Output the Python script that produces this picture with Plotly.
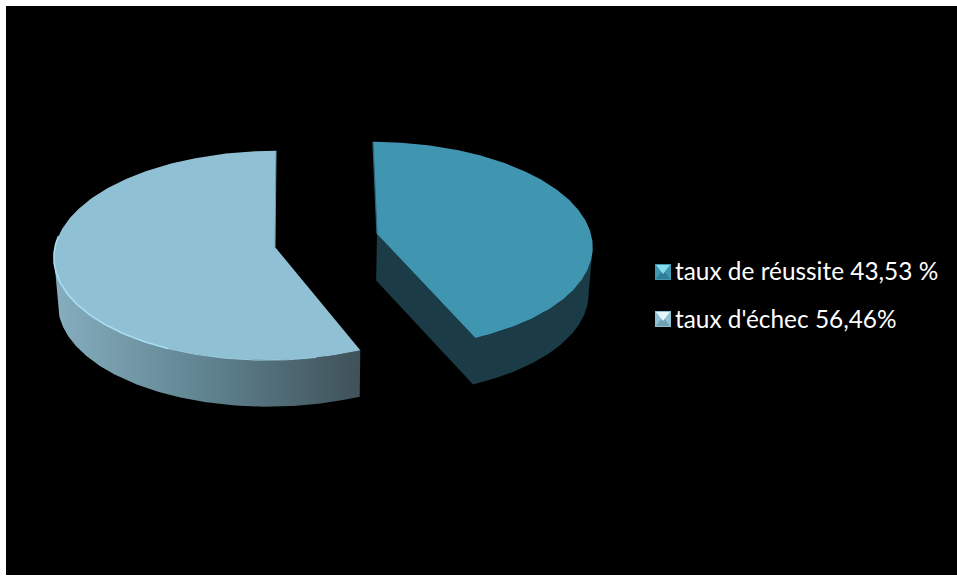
import numpy as np
import plotly.graph_objects as go

# Values
categories = ["taux de réussite", "taux d'échec"]
shares = [43.53, 56.46]
labels = ["taux de réussite 43,53 %", "taux d'échec 56,46%"]

# Palette
TOP_COLOURS = ["#4095B0", "#90C0D4"]
SWATCH_LIGHT = ["#86DCEE", "#E3F6FB"]
SWATCH_DARK = ["#2F7D95", "#6F9FB0"]
WALL_DARK = "#1B3B47"
WALL_GRADIENT = [[0, "#86AEBF"], [0.5, "#5F838F"], [1, "#3F5159"]]

# Projection of the tilted discs, in page pixels
DEPTH = 46.5
BASE_SHRINK = 0.985
BASE_VANISH_X = 320
DISCS = {
    0: dict(vx=335, ax=377, ay=234, apex=(377, 234), W=214, H=102, p=0.107),
    1: dict(vx=326, ax=272, ay=247, apex=(275, 247), W=217, H=104, p=0.081),
}


def rim(disc, theta_deg):
    """Project clock angles (0 = back of the disc) onto the page."""
    t = np.radians(np.asarray(theta_deg, dtype=float))
    u, v = np.sin(t), np.cos(t)
    s = 1 / (1 + disc["p"] * v)
    x = disc["vx"] + (disc["ax"] - disc["vx"] + disc["W"] * u) * s
    y = disc["ay"] - disc["H"] * v * s
    return x, y


def base(x, y):
    """Drop a top-face point to the bottom of the extrusion."""
    return BASE_VANISH_X + (np.asarray(x) - BASE_VANISH_X) * BASE_SHRINK, np.asarray(y) + DEPTH


total = sum(shares)
sweep_first = 360 * shares[0] / total
spans = [(0.0, sweep_first), (sweep_first, 360.0)]
fig = go.Figure()


def area(x, y, **kw):
    fig.add_trace(go.Scatter(x=list(x), y=list(y), mode="lines", fill="toself",
                             line=dict(width=0), hoverinfo="skip", **kw))


def stroke(x, y, colour, width):
    fig.add_trace(go.Scatter(x=list(x), y=list(y), mode="lines",
                             line=dict(color=colour, width=width), hoverinfo="skip"))


# Outer wall of the large slice, shaded from left to right
disc = DISCS[1]
tx, ty = rim(disc, np.linspace(spans[1][0], 265, 160))
bx, by = base(tx, ty)
area(np.r_[tx, bx[::-1]], np.r_[ty, by[::-1]],
     fillgradient=dict(type="horizontal", colorscale=WALL_GRADIENT, start=54, stop=360))

# Outer wall and cut face of the small slice, as one dark outline
disc = DISCS[0]
tx, ty = rim(disc, np.linspace(97, spans[0][1], 120))
bx, by = base(tx, ty)
px, py = disc["apex"]
qx, qy = base(px, py)
area(np.r_[tx, px, qx, bx[::-1]], np.r_[ty, py, qy, by[::-1]], fillcolor=WALL_DARK)

# Top faces, one per category
for i, (start, stop) in enumerate(spans):
    disc = DISCS[i]
    tx, ty = rim(disc, np.linspace(start, stop, 240))
    px, py = disc["apex"]
    area(np.r_[px, tx, px], np.r_[py, ty, py], fillcolor=TOP_COLOURS[i], name=categories[i])

# Bevel details on the top faces
disc = DISCS[1]
hx, hy = rim(disc, np.linspace(205, 276, 80))
stroke(hx, hy, "#A9DEF2", 1.6)
hx, hy = rim(disc, np.linspace(168, 205, 40))
stroke(hx, hy, "#9CCDE0", 1.0)
hx, hy = rim(disc, [360])
stroke([hx[0], disc["apex"][0]], [hy[0], disc["apex"][1]], "#6E98A9", 1.0)

disc = DISCS[0]
hx, hy = rim(disc, [0])
stroke([hx[0], disc["apex"][0]], [hy[0], disc["apex"][1]], "#2B6478", 1.2)

# Legend: bevelled swatch plus label
swatch_x = 663
swatch_y = [272, 319]
text_x = 676
text_y = [270, 318]
for i in range(len(labels)):
    fig.add_trace(go.Scatter(x=[swatch_x], y=[swatch_y[i]], mode="markers", hoverinfo="skip",
                             marker=dict(symbol="square", size=16, color=TOP_COLOURS[i])))
    fig.add_trace(go.Scatter(x=[swatch_x], y=[swatch_y[i] + 4], mode="markers", hoverinfo="skip",
                             marker=dict(symbol="triangle-up", size=12, color=SWATCH_DARK[i])))
    fig.add_trace(go.Scatter(x=[swatch_x], y=[swatch_y[i] - 4], mode="markers", hoverinfo="skip",
                             marker=dict(symbol="triangle-down", size=12, color=SWATCH_LIGHT[i])))
    fig.add_annotation(x=text_x, y=text_y[i], text=labels[i], showarrow=False,
                       xanchor="left", yanchor="middle", xshift=-1, borderpad=0, borderwidth=0,
                       font=dict(family="Lato, Carlito, sans-serif", size=24.4, color="#FFFFFF"))

fig.update_layout(
    width=957, height=581, autosize=False, showlegend=False,
    margin=dict(l=0, r=0, t=0, b=0),
    paper_bgcolor="#FFFFFF", plot_bgcolor="#FFFFFF",
    xaxis=dict(range=[0, 957], visible=False, fixedrange=True),
    yaxis=dict(range=[581, 0], visible=False, fixedrange=True),
    shapes=[dict(type="rect", layer="below", xref="x", yref="y", x0=6, x1=957, y0=6, y1=575,
                 fillcolor="#000000", line=dict(width=0))],
)

fig.write_html("out.html", config=dict(displayModeBar=False))
